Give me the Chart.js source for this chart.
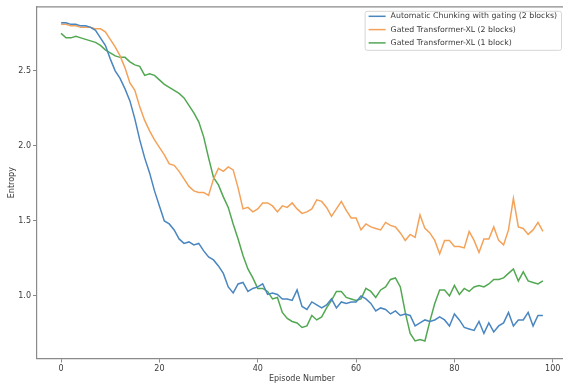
<!DOCTYPE html>
<html>
<head>
<meta charset="utf-8">
<script src="https://cdn.jsdelivr.net/npm/chart.js@4.4.0/dist/chart.umd.min.js"></script>
<style>
  html, body { margin: 0; padding: 0; background: #fff; overflow: hidden; width: 563px; height: 388px; }
  canvas { display: block; }
</style>
</head>
<body>
<canvas id="chart" width="567" height="388"></canvas>
<script>
// Episode index for every sample
const episodes = [
  0, 1, 2, 3, 4, 5, 6, 7, 8, 9,
  10, 11, 12, 13, 14, 15, 16, 17, 18, 19,
  20, 21, 22, 23, 24, 25, 26, 27, 28, 29,
  30, 31, 32, 33, 34, 35, 36, 37, 38, 39,
  40, 41, 42, 43, 44, 45, 46, 47, 48, 49,
  50, 51, 52, 53, 54, 55, 56, 57, 58, 59,
  60, 61, 62, 63, 64, 65, 66, 67, 68, 69,
  70, 71, 72, 73, 74, 75, 76, 77, 78, 79,
  80, 81, 82, 83, 84, 85, 86, 87, 88, 89,
  90, 91, 92, 93, 94, 95, 96, 97, 98
];

// Automatic Chunking with gating (2 blocks)
const chunkingGated = [
  2.82, 2.82, 2.81, 2.81, 2.80, 2.80, 2.79, 2.77, 2.72, 2.67,
  2.58, 2.50, 2.45, 2.38, 2.30, 2.18, 2.04, 1.92, 1.82, 1.70,
  1.60, 1.50, 1.48, 1.44, 1.38, 1.35, 1.36, 1.34, 1.35, 1.30,
  1.26, 1.24, 1.20, 1.15, 1.06, 1.02, 1.08, 1.09, 1.03, 1.05,
  1.06, 1.08, 1.01, 1.02, 1.01, 0.98, 0.98, 0.97, 1.04, 0.93,
  0.91, 0.96, 0.94, 0.92, 0.94, 0.98, 0.92, 0.96, 0.95, 0.96,
  0.96, 1.00, 0.98, 0.95, 0.90, 0.92, 0.91, 0.88, 0.90, 0.87,
  0.88, 0.87, 0.80, 0.82, 0.84, 0.83, 0.84, 0.86, 0.84, 0.80,
  0.88, 0.84, 0.79, 0.78, 0.77, 0.83, 0.75, 0.82, 0.76, 0.80,
  0.82, 0.89, 0.80, 0.84, 0.84, 0.89, 0.80, 0.87, 0.87
];

// Gated Transformer-XL (2 blocks)
const gtrxlTwoBlocks = [
  2.81, 2.81, 2.80, 2.80, 2.79, 2.79, 2.79, 2.78, 2.78, 2.76,
  2.71, 2.66, 2.60, 2.52, 2.42, 2.37, 2.26, 2.17, 2.10, 2.04,
  1.99, 1.94, 1.88, 1.87, 1.83, 1.78, 1.73, 1.70, 1.69, 1.69,
  1.67, 1.78, 1.85, 1.83, 1.86, 1.84, 1.72, 1.58, 1.59, 1.56,
  1.58, 1.62, 1.62, 1.60, 1.56, 1.60, 1.59, 1.62, 1.58, 1.55,
  1.56, 1.58, 1.64, 1.63, 1.59, 1.53, 1.58, 1.63, 1.57, 1.52,
  1.52, 1.44, 1.48, 1.46, 1.45, 1.44, 1.49, 1.47, 1.46, 1.42,
  1.37, 1.41, 1.39, 1.54, 1.45, 1.42, 1.37, 1.28, 1.37, 1.37,
  1.33, 1.33, 1.32, 1.43, 1.37, 1.29, 1.38, 1.38, 1.46, 1.37,
  1.34, 1.44, 1.65, 1.46, 1.45, 1.41, 1.44, 1.49, 1.43
];

// Gated Transformer-XL (1 block)
const gtrxlOneBlock = [
  2.75, 2.72, 2.72, 2.73, 2.72, 2.71, 2.70, 2.69, 2.67, 2.64,
  2.62, 2.60, 2.59, 2.59, 2.56, 2.54, 2.53, 2.47, 2.48, 2.47,
  2.44, 2.41, 2.39, 2.37, 2.35, 2.32, 2.27, 2.22, 2.16, 2.06,
  1.92, 1.79, 1.74, 1.66, 1.59, 1.48, 1.38, 1.27, 1.18, 1.12,
  1.05, 1.05, 1.03, 0.98, 0.99, 0.89, 0.85, 0.83, 0.82, 0.79,
  0.80, 0.87, 0.84, 0.86, 0.92, 0.97, 1.03, 1.03, 0.99, 0.98,
  0.97, 0.98, 1.05, 1.03, 0.99, 1.04, 1.06, 1.11, 1.12, 1.06,
  0.89, 0.75, 0.70, 0.71, 0.70, 0.83, 0.95, 1.04, 1.04, 1.00,
  1.07, 1.01, 1.05, 1.03, 1.06, 1.07, 1.06, 1.08, 1.11, 1.11,
  1.12, 1.15, 1.18, 1.10, 1.16, 1.10, 1.09, 1.08, 1.10
];

const seriesNames = [
  'Automatic Chunking with gating (2 blocks)',
  'Gated Transformer-XL (2 blocks)',
  'Gated Transformer-XL (1 block)'
];
const seriesColors = ['#4a86bf', '#f4a259', '#52a852'];

const xTicks = [0, 20, 40, 60, 80, 100];
const yTicks = [1.0, 1.5, 2.0, 2.5];

const FONT = "'DejaVu Sans', sans-serif";
const TEXT = '#3a3a3a';
const SPINE = '#8a8a8a';

function toPoints(values) {
  return episodes.map((e, i) => ({ x: e, y: values[i] }));
}

// Closes the frame with top and right spines
const framePlugin = {
  id: 'frame',
  afterDraw(chart) {
    const { ctx, chartArea: a } = chart;
    ctx.save();
    ctx.strokeStyle = SPINE;
    ctx.lineWidth = 1.2;
    ctx.beginPath();
    ctx.moveTo(a.left, a.top);
    ctx.lineTo(a.right, a.top);
    ctx.lineTo(a.right, a.bottom);
    ctx.stroke();
    ctx.restore();
  }
};

// Boxed legend in the upper right of the plot
const boxLegendPlugin = {
  id: 'boxLegend',
  afterDraw(chart) {
    const { ctx, chartArea: a } = chart;
    const ds = chart.data.datasets;
    const fontSize = 7.8;
    ctx.save();
    ctx.font = fontSize + 'px ' + FONT;
    let textW = 0;
    ds.forEach(d => { textW = Math.max(textW, ctx.measureText(d.label).width); });
    const padX = 4, lineLen = 17, gap = 5, rowH = 13.3;
    const boxW = padX + lineLen + gap + textW + padX;
    const boxH = 39;
    const right = a.right - 6;
    const top = a.top + 4;
    const left = right - boxW;
    ctx.fillStyle = 'rgba(255,255,255,0.85)';
    ctx.strokeStyle = '#d6d6d6';
    ctx.lineWidth = 1;
    ctx.beginPath();
    ctx.roundRect(left + 0.5, top + 0.5, boxW, boxH, 2);
    ctx.fill();
    ctx.stroke();
    ctx.textBaseline = 'middle';
    ds.forEach((d, i) => {
      const cy = top + 5.5 + rowH * i;
      ctx.strokeStyle = d.borderColor;
      ctx.lineWidth = 1.5;
      ctx.beginPath();
      ctx.moveTo(left + padX, cy);
      ctx.lineTo(left + padX + lineLen, cy);
      ctx.stroke();
      ctx.fillStyle = TEXT;
      ctx.fillText(d.label, left + padX + lineLen + gap, cy);
    });
    ctx.restore();
  }
};

const ctx = document.getElementById('chart').getContext('2d');
new Chart(ctx, {
  type: 'line',
  data: {
    datasets: [
      { label: seriesNames[0], data: toPoints(chunkingGated), borderColor: seriesColors[0] },
      { label: seriesNames[1], data: toPoints(gtrxlTwoBlocks), borderColor: seriesColors[1] },
      { label: seriesNames[2], data: toPoints(gtrxlOneBlock), borderColor: seriesColors[2] }
    ]
  },
  options: {
    responsive: false,
    animation: false,
    devicePixelRatio: 1,
    layout: { padding: { top: 6.5, right: 0, bottom: 0, left: 0 } },
    elements: {
      point: { radius: 0 },
      line: { borderWidth: 1.5, tension: 0, fill: false }
    },
    plugins: {
      legend: { display: false },
      tooltip: { enabled: false }
    },
    scales: {
      x: {
        type: 'linear',
        min: -4.9,
        max: 102.9,
        afterBuildTicks: s => { s.ticks = xTicks.map(v => ({ value: v })); },
        afterFit: s => { s.height = 29.5; },
        ticks: {
          font: { family: FONT, size: 8 },
          color: TEXT,
          padding: 2,
          maxRotation: 0,
          callback: v => String(v)
        },
        grid: { display: true, drawOnChartArea: false, drawTicks: true, tickLength: 4, color: SPINE, lineWidth: 1 },
        border: { display: true, color: SPINE, width: 1.2 },
        title: {
          display: true,
          text: 'Episode Number',
          font: { family: FONT, size: 8 },
          color: TEXT,
          padding: { top: 0, bottom: 4 }
        }
      },
      y: {
        type: 'linear',
        min: 0.583,
        max: 2.927,
        afterBuildTicks: s => { s.ticks = yTicks.map(v => ({ value: v })); },
        afterFit: s => { s.width = 37; },
        ticks: {
          font: { family: FONT, size: 8 },
          color: TEXT,
          padding: 2,
          callback: v => Number(v).toFixed(1)
        },
        grid: { display: true, drawOnChartArea: false, drawTicks: true, tickLength: 4, color: SPINE, lineWidth: 1 },
        border: { display: true, color: SPINE, width: 1.2 },
        title: {
          display: true,
          text: 'Entropy',
          font: { family: FONT, size: 8 },
          color: TEXT,
          padding: { top: 7, bottom: 0 }
        }
      }
    }
  },
  plugins: [framePlugin, boxLegendPlugin]
});
</script>
</body>
</html>
